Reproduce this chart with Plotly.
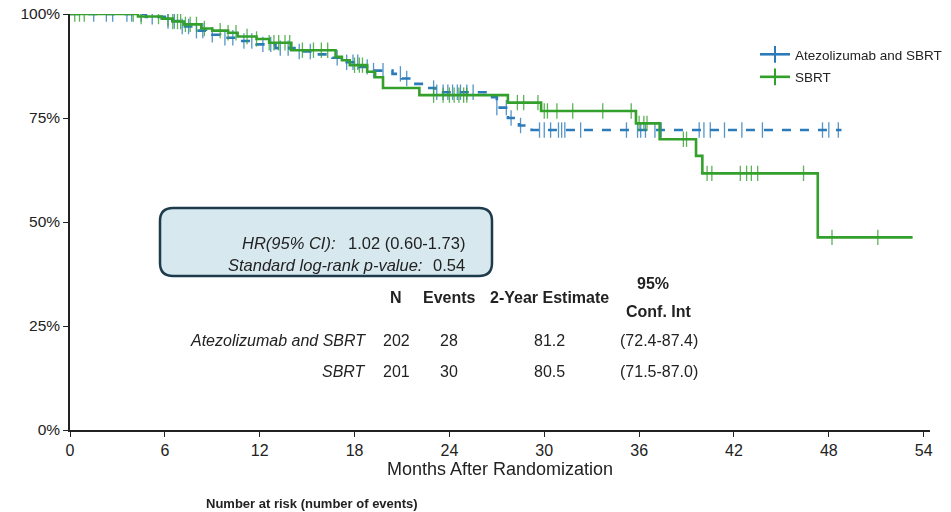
import numpy as np
import plotly.graph_objects as go

# ---- Kaplan-Meier step data (months, survival %) ----
atezo_step_t = [0, 4.8, 6.0, 7.0, 7.8, 8.6, 9.5, 10.6, 11.8, 13.0, 14.2, 15.4, 16.6, 17.5,
                18.3, 19.2, 20.4, 21.0, 21.7, 22.6, 23.1, 26.6, 27.0, 27.7, 28.4, 29.2]
atezo_step_s = [100, 99.3, 98.3, 97.0, 96.0, 95.0, 94.3, 93.5, 92.7, 91.8, 91.0, 90.3, 89.5, 88.4,
                87.3, 86.4, 85.6, 84.5, 83.2, 82.2, 81.2, 80.0, 77.5, 75.0, 73.2, 72.1]
atezo_end = 48.8
atezo_censor_t = [1.5, 2.3, 2.7, 3.6, 3.9, 4.5, 5.2, 6.2, 6.6, 7.1, 7.5, 8.0, 8.4, 9.0, 9.8,
                  10.3, 11.0, 11.5, 12.2, 12.7, 13.3, 13.8, 14.5, 15.2, 16.9, 17.5, 17.9,
                  18.2, 18.8, 19.2, 19.8, 20.9, 21.3, 23.0, 23.2, 23.6, 23.9, 24.2, 24.5,
                  24.7, 25.1, 25.5, 27.0, 27.6, 27.9, 28.5, 29.7, 30.0, 30.4, 30.9, 31.1,
                  31.3, 32.3, 35.2, 35.9, 36.1, 36.4, 37.0, 37.4, 39.8, 40.1, 40.5, 41.4,
                  42.5, 43.8, 47.6, 48.0, 48.6]

sbrt_step_t = [0, 4.3, 5.8, 6.5, 7.2, 8.3, 9.0, 10.0, 10.6, 11.8, 12.6, 14.0, 16.8, 17.2,
               17.7, 18.8, 19.3, 19.8, 22.1, 27.7, 29.8, 35.8, 37.3, 39.6, 40.0, 47.3]
sbrt_step_s = [100, 99.4, 98.9, 98.2, 97.5, 96.5, 96.0, 95.5, 94.6, 94.0, 93.1, 91.3, 89.7, 88.9,
               87.7, 86.1, 84.8, 82.2, 80.5, 78.7, 76.7, 73.7, 69.9, 65.9, 61.7, 46.3]
sbrt_end = 53.3
sbrt_censor_t = [0.3, 0.6, 0.9, 4.0, 4.5, 5.6, 6.2, 6.5, 6.8, 7.0, 7.3, 7.6, 8.0, 8.5, 9.5,
                 10.0, 10.5, 11.2, 11.8, 12.6, 12.9, 13.2, 13.6, 13.9, 14.7, 15.4, 15.9,
                 16.3, 18.0, 18.3, 18.5, 23.0, 23.6, 24.0, 24.3, 24.6, 24.9, 25.1, 28.3,
                 28.7, 29.6, 30.0, 30.2, 30.8, 31.8, 33.7, 35.5, 36.0, 36.3, 36.5, 38.8,
                 39.0, 40.3, 40.6, 42.4, 42.8, 43.1, 43.5, 46.4, 48.2, 51.1]

# ---- summary table ----
arm_names = ["Atezolizumab and SBRT", "SBRT"]
arm_n = [202, 201]
arm_events = [28, 30]
arm_2yr = ["81.2", "80.5"]
arm_ci = ["(72.4-87.4)", "(71.5-87.0)"]
hr_text = "1.02 (0.60-1.73)"
p_text = "0.54"

x_ticks = list(range(0, 55, 6))
y_ticks = [0, 25, 50, 75, 100]

BLUE = "#2b7bba"
GREEN = "#33a02c"


def step_value(t_steps, s_steps, t):
    idx = np.searchsorted(np.asarray(t_steps), t, side="right") - 1
    return np.asarray(s_steps)[idx]


fig = go.Figure()

arms = [
    (arm_names[0], atezo_step_t, atezo_step_s, atezo_end, atezo_censor_t, BLUE, "dash"),
    (arm_names[1], sbrt_step_t, sbrt_step_s, sbrt_end, sbrt_censor_t, GREEN, "solid"),
]
for name, st, ss, tend, ct, color, dash in arms:
    xs = list(st) + [tend]
    ys = list(ss) + [ss[-1]]
    fig.add_trace(go.Scatter(
        x=xs, y=ys, mode="lines", line=dict(color=color, width=2.6, dash=dash, shape="hv"),
        showlegend=False, hoverinfo="skip"))
    cy = step_value(st, ss, np.asarray(ct))
    fig.add_trace(go.Scatter(
        x=ct, y=cy, mode="markers",
        marker=dict(symbol="line-ns", size=11, line=dict(color=color, width=1.3)),
        showlegend=False, hoverinfo="skip", opacity=0.8))
    # legend entry: line with a censor tick
    fig.add_trace(go.Scatter(
        x=[None], y=[None], mode="lines+markers", name=name, legendgroup=name,
        line=dict(color=color, width=2.6),
        marker=dict(symbol="line-ns", size=12, line=dict(color=color, width=2))))

# ---- layout geometry (pixels) ----
W, H = 951, 512
ML, MR, MT, MB = 70, 21, 14, 82
PW = W - ML - MR
PH = H - MT - MB


def px(xp):
    return (xp - ML) / PW


def py(yp):
    return (H - MB - yp) / PH


# rounded statistics box
x0, x1, y0, y1 = px(160), px(492), py(276), py(208)
rx, ry = 13 / PW, 13 / PH
path = (f"M {x0+rx},{y0} L {x1-rx},{y0} Q {x1},{y0} {x1},{y0+ry} "
        f"L {x1},{y1-ry} Q {x1},{y1} {x1-rx},{y1} L {x0+rx},{y1} "
        f"Q {x0},{y1} {x0},{y1-ry} L {x0},{y0+ry} Q {x0},{y0} {x0+rx},{y0} Z")
fig.add_shape(type="path", path=path, xref="paper", yref="paper",
              fillcolor="#d7e8ef", line=dict(color="#1d3b4a", width=2.5), layer="above")

TXT = "#222222"
FONT = "Liberation Sans"
ann = []


def add_text(text, xp, yp, xanchor="center", size=16, bold=False, italic=False):
    if bold:
        text = f"<b>{text}</b>"
    if italic:
        text = f"<i>{text}</i>"
    ann.append(dict(text=text, x=px(xp), y=py(yp), xref="paper", yref="paper",
                    xanchor=xanchor, yanchor="middle", showarrow=False,
                    font=dict(size=size, color=TXT, family=FONT)))


add_text("HR(95% CI):", 338, 243, "right", size=16.5, italic=True)
add_text(hr_text, 346, 243, "left", size=16.5)
add_text("Standard log-rank p-value:", 424, 265, "right", size=16.5, italic=True)
add_text(p_text, 467, 265, "right", size=16.5)

add_text("N", 396, 297, bold=True)
add_text("Events", 449, 297, bold=True)
add_text("2-Year Estimate", 549, 297, bold=True)
add_text("95%", 653, 283, bold=True)
add_text("Conf. Int", 659, 311, bold=True)
row_y = [340, 371]
for i in range(2):
    add_text(arm_names[i], 368, row_y[i], "right", italic=True)
    add_text(str(arm_n[i]), 396, row_y[i])
    add_text(str(arm_events[i]), 449, row_y[i])
    add_text(arm_2yr[i], 549, row_y[i])
    add_text(arm_ci[i], 659, row_y[i])

add_text("Number at risk (number of events)", 312, 503, size=13, bold=True)

fig.update_layout(
    width=W, height=H,
    margin=dict(l=ML, r=MR, t=MT, b=MB, autoexpand=False),
    paper_bgcolor="white", plot_bgcolor="white",
    font=dict(family=FONT, color=TXT),
    annotations=ann,
    legend=dict(x=px(755), y=py(39), xanchor="left", yanchor="top",
                font=dict(size=13.5, color=TXT, family=FONT),
                bgcolor="rgba(0,0,0,0)", itemwidth=30, tracegroupgap=2),
    xaxis=dict(range=[0, 54.4], tickvals=x_ticks, ticktext=[str(v) for v in x_ticks],
               showgrid=False, zeroline=False, showline=True, linecolor="#222", linewidth=1.5,
               ticks="outside", ticklen=5, tickcolor="#222", automargin=False,
               tickfont=dict(size=16, family=FONT, color=TXT),
               title=dict(text="Months After Randomization", standoff=1,
                          font=dict(size=18, family=FONT, color=TXT))),
    yaxis=dict(range=[0, 100], tickvals=y_ticks, ticktext=[f"{v}%" for v in y_ticks],
               showgrid=False, zeroline=False, showline=True, linecolor="#222", linewidth=1.5,
               ticks="outside", ticklen=5, tickcolor="#222", automargin=False,
               tickfont=dict(size=15.5, family=FONT, color=TXT)),
)

fig.write_html("out.html")
